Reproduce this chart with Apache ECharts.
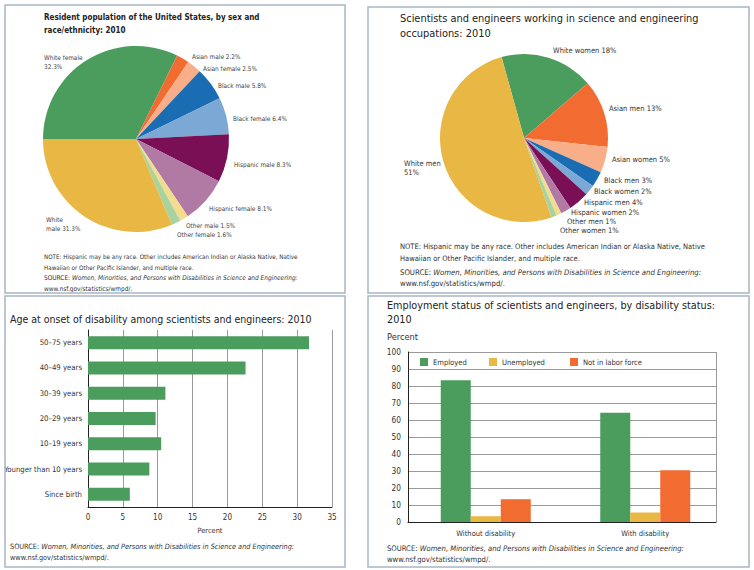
<!DOCTYPE html>
<html><head><meta charset="utf-8">
<script src="https://cdn.jsdelivr.net/npm/echarts@6/dist/echarts.min.js"></script>
<style>html,body{margin:0;padding:0;background:#fff}#c{width:754px;height:570px}</style>
</head><body><div id="c"></div>
<script>
// ---------------- DATA ----------------
const popNames = ['White female','Asian male','Asian female','Black male','Black female','Hispanic male','Hispanic female','Other male','Other female','White male'];
const popValues = [32.3,2.2,2.5,5.8,6.4,8.3,8.1,1.5,1.6,31.3];
const seNames = ['White women','Asian men','Asian women','Black men','Black women','Hispanic men','Hispanic women','Other men','Other women','White men'];
const seValues = [18,13,5,3,2,4,2,1,1,51];
const ageCategories = ['50–75 years','40–49 years','30–39 years','20–29 years','10–19 years','Younger than 10 years','Since birth'];
const ageValues = [31.7,22.6,11.1,9.7,10.5,8.8,6.0];
const empCategories = ['Without disability','With disability'];
const employed = [83.4,64.2];
const unemployed = [3.4,5.6];
const notInLabor = [13.4,30.4];

// ---------------- FONT ----------------
const mctx = document.createElement('canvas').getContext('2d');
function hasFont(f){
  const s='abcdefghijklmnopqrstuvwxyzABCDEFGHIJKLMNOP0123456789';
  let r=false;
  ['monospace','serif'].forEach(b=>{
    mctx.font='40px '+b; const w0=mctx.measureText(s).width;
    mctx.font="40px '"+f+"', "+b; const w1=mctx.measureText(s).width;
    if(Math.abs(w0-w1)>0.5) r=true;
  });
  return r;
}
const condensed = ['Liberation Sans Narrow','DejaVu Sans Condensed','Roboto Condensed','Open Sans Condensed','Noto Sans Condensed','Arial Narrow'].find(hasFont);
const FONT = (condensed ? "'"+condensed+"', " : '') + "'Liberation Sans', Arial, sans-serif";
function fit(t, target, max, weight, style){
  mctx.font=(style||'normal')+' '+(weight||'normal')+' 40px '+FONT;
  return Math.min(max, 40*target/mctx.measureText(t).width);
}

// ---------------- STYLE / LAYOUT ----------------
const sliceColors = ['#4b9d5e','#f26b30','#f8ae88','#1b6db3','#7ba8d5','#7a0f56','#b07aa5','#f4dc8e','#a9d2a1','#e9b743'];
const popTpl = ['{b}\n{c}%','{b} {c}%','{b} {c}%','{b} {c}%','{b} {c}%','{b} {c}%','{b} {c}%','{b} {c}%','{b} {c}%','White\nmale {c}%'];
const seTpl = ['{b} {c}%','{b} {c}%','{b} {c}%','{b} {c}%','{b} {c}%','{b} {c}%','{b} {c}%','{b} {c}%','{b} {c}%','White men\n{c}%'];
const popLabelPos = [[44,62.5],[192,57],[203,69],[218,86],[233,119],[234,165],[209,209],[186,226],[177,235],[46,224.5]];
const seLabelPos = [[553,50],[609,108],[612,159],[604,180],[594,191],[584,202],[571,212],[567,221],[560,230],[404,168]];
const panels = [[5,5,340,288],[368,7,381,286],[5,296,340,271],[368,296,381,271]];

const title1 = 'Resident population of the United States, by sex and\nrace/ethnicity: 2010';
const title2 = 'Scientists and engineers working in science and engineering\noccupations: 2010';
const title3 = 'Age at onset of disability among scientists and engineers: 2010';
const title4 = 'Employment status of scientists and engineers, by disability status:\n2010';
const noteText = 'NOTE: Hispanic may be any race. Other includes American Indian or Alaska Native, Native\nHawaiian or Other Pacific Islander, and multiple race.';
const srcLine = 'SOURCE: Women, Minorities, and Persons with Disabilities in Science and Engineering:';
const sourceText = '{n|SOURCE: }{i|Women, Minorities, and Persons with Disabilities in Science and Engineering:}\n{n|www.nsf.gov/statistics/wmpd/.}';

const fs = {
  t1: fit(title1.split('\n')[0],216,12,'bold'),
  t2: fit(title2.split('\n')[0],299,13),
  t3: fit(title3,302,13),
  t4: fit(title4.split('\n')[0],328,13),
  note1: fit(noteText.split('\n')[0],254,8),
  note2: fit(noteText.split('\n')[0],305,9),
  src1: fit(srcLine,254,8,'normal','italic'),
  src2: fit(srcLine,302,9,'normal','italic'),
  src3: fit(srcLine,285,9,'normal','italic'),
  src4: fit(srcLine,298,9,'normal','italic'),
  pie1: fit('Black female 6.4%',54,8),
  pie2: fit('Asian women 5%',58,10),
  cat3: fit('Younger than 10 years',78,9),
  pct3: fit('Percent',25,9),
  pct4: fit('Percent',31,10),
  leg: fit('Not in labor force',59,9),
  cat4: fit('Without disability',59,9)
};
const tickFs3 = Math.min(9, fs.cat3*1.05);
const tickFs4 = Math.min(9.5, fs.cat4*1.1);

function srcRich(s, lh){
  return {n:{fontFamily:FONT,fontSize:s,lineHeight:lh,color:'#333'},
          i:{fontFamily:FONT,fontSize:s,lineHeight:lh,color:'#333',fontStyle:'italic'}};
}
function mkTitle(text,left,top,s,lh,weight,color){
  return {text:text,left:left,top:top,padding:0,itemGap:0,
    textStyle:{fontFamily:FONT,fontSize:s,lineHeight:lh,fontWeight:weight,color:color||'#222'}};
}
function mkSource(left,top,s,lh){
  return {text:sourceText,left:left,top:top,padding:0,
    textStyle:{fontFamily:FONT,fontSize:s,lineHeight:lh,fontWeight:'normal',color:'#333',rich:srcRich(s,lh)}};
}
function mkLegend(name,left){
  return {data:[name],left:left,top:358,padding:0,icon:'rect',itemWidth:8,itemHeight:8,itemGap:5,selectedMode:false,
    textStyle:{fontFamily:FONT,fontSize:fs.leg,color:'#333'}};
}

const chart = echarts.init(document.getElementById('c'), null, {renderer:'svg'});

const option = {
  animation:false,
  backgroundColor:'#fff',
  textStyle:{fontFamily:FONT},
  graphic: panels.map(p=>({type:'rect',shape:{x:p[0],y:p[1],width:p[2],height:p[3]},
      style:{fill:'none',stroke:'#a9b6c3',lineWidth:1.5},silent:true,z:100})),
  title:[
    mkTitle(title1,44,10.5,fs.t1,13,'bold'),
    mkTitle(noteText,44,250.5,fs.note1,11,'normal','#333'),
    mkSource(44,272.5,fs.src1,11),
    mkTitle(title2,400,10.5,fs.t2,15,'normal'),
    mkTitle(noteText,400,241,fs.note2,11.5,'normal','#333'),
    mkSource(400,266.5,fs.src2,11.5),
    mkTitle(title3,10,311.5,fs.t3,14,'normal'),
    mkSource(10,541.5,fs.src3,10.5),
    mkTitle(title4,387,298.5,fs.t4,14,'normal'),
    mkTitle('Percent',387,330.5,fs.pct4,12,'normal','#333'),
    mkSource(387,543,fs.src4,10.7)
  ],
  legend:[ mkLegend('Employed',420), mkLegend('Unemployed',489), mkLegend('Not in labor force',570) ],
  grid:[
    {left:88,top:330,width:244,height:177},
    {left:408,top:352,width:308,height:170},
    {left:406,top:352,width:319,height:170}
  ],
  xAxis:[
    {type:'value',gridIndex:0,min:0,max:35,interval:5,
     axisLine:{show:true,lineStyle:{color:'#222',width:1}},axisTick:{show:false},
     splitLine:{show:true,lineStyle:{color:'#9a9a9a',width:1}},
     axisLabel:{fontFamily:FONT,fontSize:tickFs3,color:'#333',margin:6},
     name:'Percent',nameLocation:'middle',nameGap:20,nameTextStyle:{fontFamily:FONT,fontSize:fs.pct3,color:'#333'}},
    {type:'value',gridIndex:1,min:0,max:1,interval:1,
     axisLine:{show:true,lineStyle:{color:'#222',width:1}},axisTick:{show:false},axisLabel:{show:false},
     splitLine:{show:true,lineStyle:{color:'#9a9a9a',width:1}}},
    {type:'category',gridIndex:2,data:empCategories,
     axisLine:{show:false},axisTick:{show:false},
     axisLabel:{fontFamily:FONT,fontSize:fs.cat4,color:'#333',margin:7}}
  ],
  yAxis:[
    {type:'category',gridIndex:0,data:ageCategories,inverse:true,
     axisLine:{show:true,lineStyle:{color:'#222',width:1}},axisTick:{show:false},
     axisLabel:{fontFamily:FONT,fontSize:fs.cat3,color:'#333',margin:6}},
    {type:'value',gridIndex:1,min:0,max:100,interval:10,
     axisLine:{show:true,lineStyle:{color:'#222',width:1}},axisTick:{show:false},
     splitLine:{show:true,lineStyle:{color:'#9a9a9a',width:1}},
     axisLabel:{fontFamily:FONT,fontSize:tickFs4,color:'#333',margin:7}},
    {type:'value',gridIndex:2,min:0,max:100,show:false}
  ],
  series:[
    {type:'pie',center:[136,139],radius:93,startAngle:180,clockwise:true,silent:true,avoidLabelOverlap:false,
     data:popNames.map((n,i)=>({name:n,value:popValues[i],itemStyle:{color:sliceColors[i]},label:{formatter:popTpl[i]}})),
     label:{show:true,position:'outside',fontFamily:FONT,fontSize:fs.pie1,lineHeight:9,color:'#444'},
     labelLine:{show:false},
     labelLayout:p=>({x:popLabelPos[p.dataIndex][0],y:popLabelPos[p.dataIndex][1],align:'left',verticalAlign:'middle'})},
    {type:'pie',center:[524,138],radius:84,startAngle:105.5,clockwise:true,silent:true,avoidLabelOverlap:false,
     data:seNames.map((n,i)=>({name:n,value:seValues[i],itemStyle:{color:sliceColors[i]},label:{formatter:seTpl[i]}})),
     label:{show:true,position:'outside',fontFamily:FONT,fontSize:fs.pie2,lineHeight:9.5,color:'#333'},
     labelLine:{show:false},
     labelLayout:p=>({x:seLabelPos[p.dataIndex][0],y:seLabelPos[p.dataIndex][1],align:'left',verticalAlign:'middle'})},
    {type:'bar',xAxisIndex:0,yAxisIndex:0,data:ageValues,barWidth:13,itemStyle:{color:'#4b9d5e'},silent:true},
    {name:'Employed',type:'bar',xAxisIndex:2,yAxisIndex:2,data:employed,barWidth:30,barGap:'0%',itemStyle:{color:'#4b9d5e'},silent:true},
    {name:'Unemployed',type:'bar',xAxisIndex:2,yAxisIndex:2,data:unemployed,barWidth:30,barGap:'0%',itemStyle:{color:'#e9b743'},silent:true},
    {name:'Not in labor force',type:'bar',xAxisIndex:2,yAxisIndex:2,data:notInLabor,barWidth:30,barGap:'0%',itemStyle:{color:'#f26b30'},silent:true}
  ]
};
chart.setOption(option);
</script>
</body></html>
